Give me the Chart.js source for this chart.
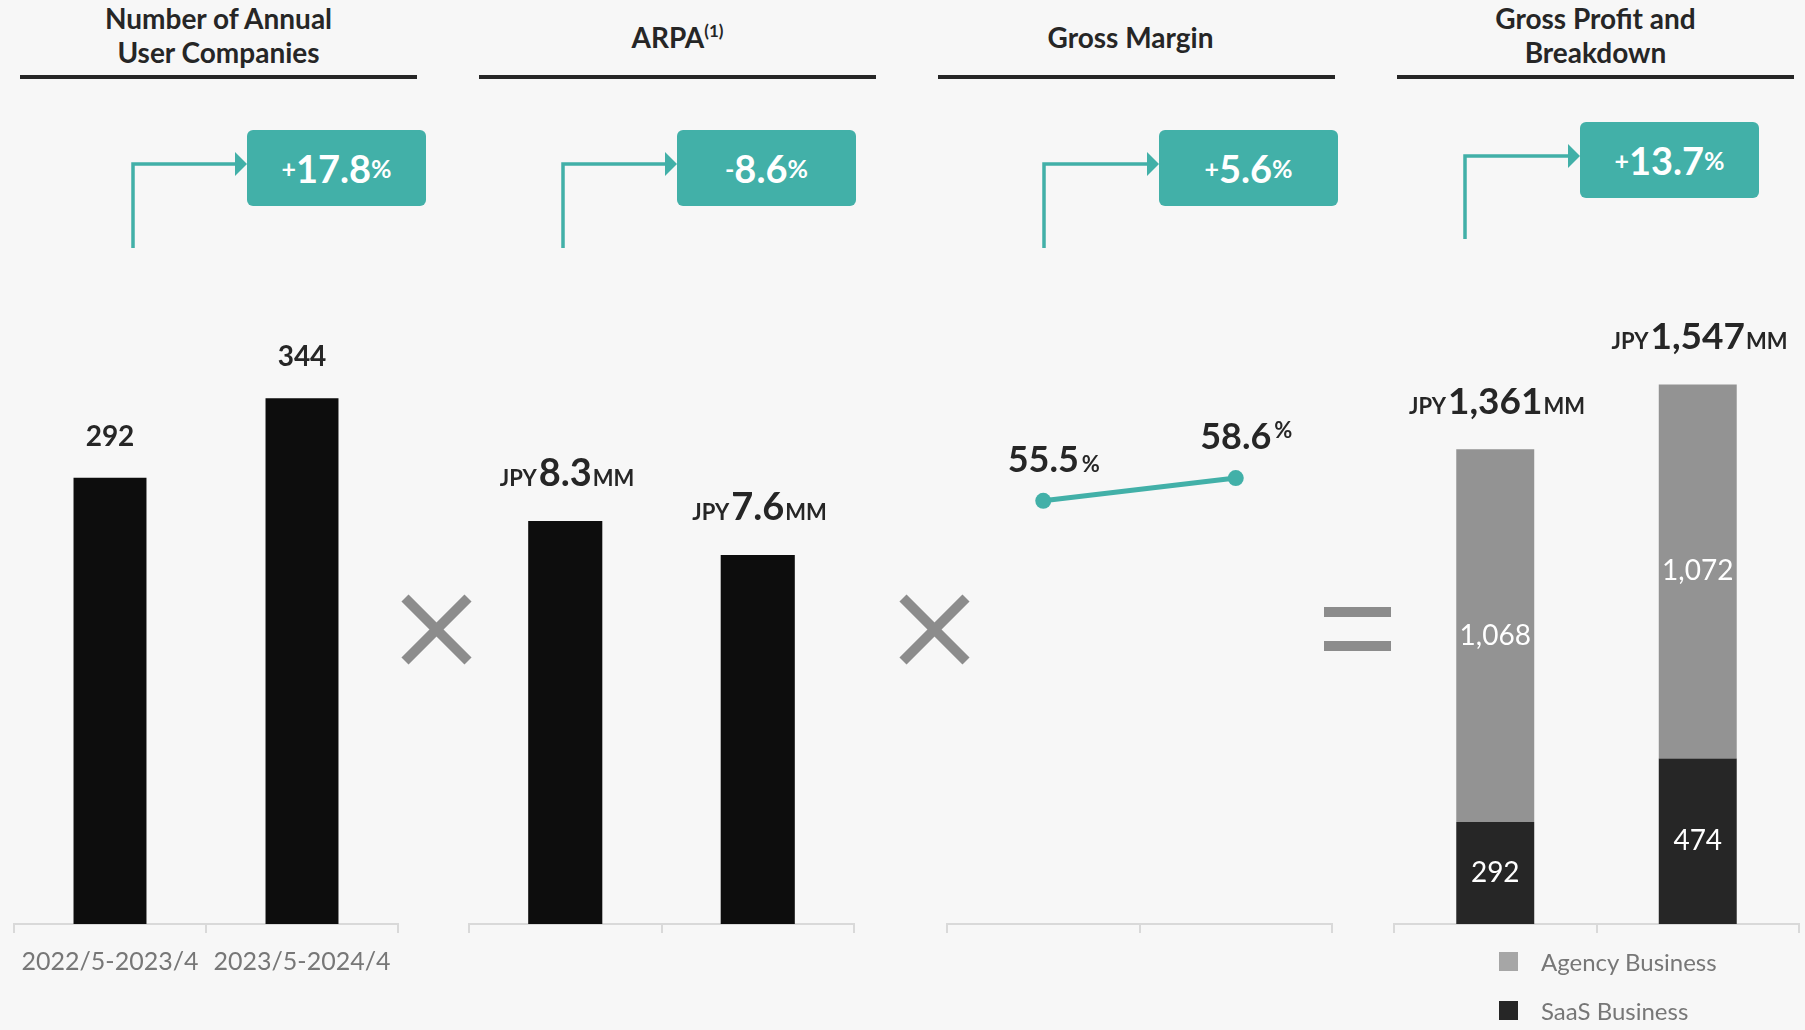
<!DOCTYPE html>
<html lang="en">
<head>
<meta charset="utf-8">
<title>Gross Profit Drivers</title>
<script src="https://cdn.jsdelivr.net/npm/chart.js@4.4.1/dist/chart.umd.min.js"></script>
<style>
  html, body { margin: 0; padding: 0; background: #f7f7f7; }
  #page { position: relative; width: 1805px; height: 1030px; overflow: hidden;
          font-family: Lato, 'Open Sans', sans-serif; color: #262626; }
  .title { position: absolute; width: 397px; text-align: center; font-weight: bold;
           font-size: 28px; line-height: 34px; }
  .title sup { font-size: 17px; line-height: 0; vertical-align: 11px; }
  .rule { position: absolute; top: 75px; width: 397px; height: 4px; background: #262626; }
  .change { position: absolute; width: 179px; height: 76px; border-radius: 6px;
            background: #42b0a8; color: #fff; font-weight: bold;
            display: flex; align-items: center; justify-content: center; }
  .change .big { font-size: 38px; }
  .change .small { font-size: 25px; }
  canvas { position: absolute; top: 250px; }
  #decor { position: absolute; left: 0; top: 0; }
  #legend { position: absolute; left: 1499px; top: 952px; }
  #legend .item { display: flex; align-items: center; height: 19px; margin-bottom: 30px;
                  font-size: 24px; color: #777; }
  #legend .box { width: 19px; height: 19px; margin-right: 23px; }
</style>
</head>
<body>
<div id="page">
  <div class="title" style="left:20px;top:1px">Number of Annual<br>User Companies</div>
  <div class="title" style="left:479px;top:20px">ARPA<sup>(1)</sup></div>
  <div class="title" style="left:932px;top:20px">Gross Margin</div>
  <div class="title" style="left:1397px;top:1px">Gross Profit and<br>Breakdown</div>
  <div class="rule" style="left:20px"></div>
  <div class="rule" style="left:479px"></div>
  <div class="rule" style="left:938px"></div>
  <div class="rule" style="left:1397px"></div>

  <svg id="decor" width="1805" height="1030">
    <g fill="none" stroke="#42b0a8" stroke-width="3.5">
      <polyline points="133,248 133,164 237,164"/>
      <polyline points="563,248 563,164 667,164"/>
      <polyline points="1044,248 1044,164 1149,164"/>
      <polyline points="1465,239 1465,156 1570,156"/>
    </g>
    <g fill="#42b0a8">
      <polygon points="235,152 247,164 235,176"/>
      <polygon points="665,152 677,164 665,176"/>
      <polygon points="1147,152 1159,164 1147,176"/>
      <polygon points="1568,144 1580,156 1568,168"/>
    </g>
    <g stroke="#8c8c8c" stroke-width="10">
      <line x1="405" y1="598" x2="468" y2="661"/>
      <line x1="468" y1="598" x2="405" y2="661"/>
      <line x1="903" y1="598" x2="966" y2="661"/>
      <line x1="966" y1="598" x2="903" y2="661"/>
    </g>
    <rect x="1324" y="607" width="67" height="10" fill="#8c8c8c"/>
    <rect x="1324" y="641" width="67" height="10" fill="#8c8c8c"/>
  </svg>

  <div class="change" id="chgUsers" style="left:247px;top:130px"></div>
  <div class="change" id="chgArpa" style="left:677px;top:130px"></div>
  <div class="change" id="chgMargin" style="left:1159px;top:130px"></div>
  <div class="change" id="chgProfit" style="left:1580px;top:122px"></div>

  <canvas id="usersChart" width="404" height="780" style="left:4px"></canvas>
  <canvas id="arpaChart" width="405" height="780" style="left:459px"></canvas>
  <canvas id="marginChart" width="405" height="780" style="left:937px"></canvas>
  <canvas id="profitChart" width="421" height="780" style="left:1384px"></canvas>

  <div id="legend"></div>
</div>

<script>
const periods = ['2022/5-2023/4', '2023/5-2024/4'];
const userCompanies = [292, 344];
const arpa = [8.3, 7.6];             // JPY MM
const grossMargin = [55.5, 58.6];    // %
const saasProfit = [292, 474];       // JPY MM
const agencyProfit = [1068, 1072];   // JPY MM
const grossProfit = [1361, 1547];    // JPY MM
const yearOnYear = [17.8, -8.6, 5.6, 13.7];

const TEAL = '#42b0a8';
const INK = '#262626';

Chart.defaults.font.family = 'Lato';
Chart.defaults.color = '#777';

// year-on-year change boxes
['chgUsers', 'chgArpa', 'chgMargin', 'chgProfit'].forEach((id, i) => {
  const v = yearOnYear[i];
  document.getElementById(id).innerHTML =
    `<span class="small">${v < 0 ? '-' : '+'}</span><span class="big">${Math.abs(v).toFixed(1)}</span><span class="small">%</span>`;
});

function xAxis(showLabels) {
  return {
    offset: true,
    grid: { offset: true, drawOnChartArea: false, tickLength: 9, color: '#d9d9d9', lineWidth: 2 },
    border: { color: '#d9d9d9', width: 2 },
    ticks: { display: showLabels, autoSkip: false, maxRotation: 0, padding: 14, color: '#777', font: { size: 25 } },
    afterFit: (scale) => { scale.height = 106; }
  };
}

function drawLabel(ctx, x, baseline, text, cfg, i) {
  ctx.textBaseline = 'alphabetic';
  ctx.fillStyle = INK;
  ctx.font = cfg.numFont;
  const w = ctx.measureText(text).width;
  const left = x - w / 2;
  ctx.textAlign = 'left';
  ctx.fillText(text, left, baseline);
  ctx.font = cfg.unitFont || cfg.numFont;
  if (cfg.prefix) {
    ctx.textAlign = 'right';
    ctx.fillText(cfg.prefix, left - 2, baseline);
  }
  if (cfg.suffix) {
    const lift = cfg.suffixLift ? cfg.suffixLift[i] : 0;
    ctx.textAlign = 'left';
    ctx.fillText(cfg.suffix, left + w + (cfg.suffixGap || 1), baseline - lift);
  }
}

// labels above the top of each bar / point
function valueLabels(cfg) {
  return {
    id: 'valueLabels',
    afterDatasetsDraw(chart) {
      const ctx = chart.ctx;
      const meta = chart.getDatasetMeta(chart.data.datasets.length - 1);
      ctx.save();
      meta.data.forEach((el, i) => {
        const text = cfg.values[i].toLocaleString('en-US', {
          minimumFractionDigits: cfg.decimals, maximumFractionDigits: cfg.decimals
        });
        drawLabel(ctx, el.x, el.y - cfg.gap, text, cfg, i);
      });
      ctx.restore();
    }
  };
}

// white numbers in the middle of each stacked segment
const segmentLabels = {
  id: 'segmentLabels',
  afterDatasetsDraw(chart) {
    const ctx = chart.ctx;
    ctx.save();
    ctx.font = '28px Lato';
    ctx.fillStyle = '#fff';
    ctx.textAlign = 'center';
    ctx.textBaseline = 'middle';
    chart.data.datasets.forEach((ds, d) => {
      chart.getDatasetMeta(d).data.forEach((el, i) => {
        ctx.fillText(ds.data[i].toLocaleString('en-US'), el.x, (el.y + el.base) / 2);
      });
    });
    ctx.restore();
  }
};

const common = {
  responsive: false,
  animation: false,
  events: [],
  plugins: { legend: { display: false }, tooltip: { enabled: false } }
};

new Chart(document.getElementById('usersChart'), {
  type: 'bar',
  data: {
    labels: periods,
    datasets: [{ label: 'Annual user companies', data: userCompanies, backgroundColor: '#0d0d0d',
                 barPercentage: 0.38, categoryPercentage: 1 }]
  },
  options: {
    ...common,
    layout: { padding: { left: 10, right: 10, top: 0, bottom: 0 } },
    scales: { x: xAxis(true), y: { display: false, min: 0, max: 441 } }
  },
  plugins: [valueLabels({ values: userCompanies, decimals: 0, gap: 32, numFont: 'bold 28px Lato' })]
});

new Chart(document.getElementById('arpaChart'), {
  type: 'bar',
  data: {
    labels: periods,
    datasets: [{ label: 'ARPA', data: arpa, backgroundColor: '#0d0d0d',
                 barPercentage: 0.385, categoryPercentage: 1 }]
  },
  options: {
    ...common,
    layout: { padding: { left: 10, right: 10, top: 0, bottom: 0 } },
    scales: { x: xAxis(false), y: { display: false, min: 0, max: 13.88 } }
  },
  plugins: [valueLabels({ values: arpa, decimals: 1, gap: 35, numFont: 'bold 38px Lato',
                          unitFont: 'bold 22px Lato', prefix: 'JPY', suffix: 'MM' })]
});

new Chart(document.getElementById('marginChart'), {
  type: 'line',
  data: {
    labels: periods,
    datasets: [{ label: 'Gross margin', data: grossMargin, borderColor: TEAL, borderWidth: 5,
                 pointRadius: 8, pointBackgroundColor: TEAL, pointBorderWidth: 0 }]
  },
  options: {
    ...common,
    layout: { padding: { left: 10, right: 10, top: 0, bottom: 0 } },
    scales: { x: xAxis(false), y: { display: false, min: -2.2, max: 88.6 } }
  },
  plugins: [valueLabels({ values: grossMargin, decimals: 1, gap: 29, numFont: 'bold 36px Lato',
                          unitFont: 'bold 22px Lato', suffix: '%', suffixGap: 3, suffixLift: [0, 11] })]
});

const profitChart = new Chart(document.getElementById('profitChart'), {
  type: 'bar',
  data: {
    labels: periods,
    datasets: [
      { label: 'SaaS Business', data: saasProfit, backgroundColor: INK, legendColor: INK,
        barPercentage: 0.385, categoryPercentage: 1 },
      { label: 'Agency Business', data: agencyProfit, backgroundColor: '#939393', legendColor: '#a6a6a6',
        barPercentage: 0.385, categoryPercentage: 1 }
    ]
  },
  options: {
    ...common,
    layout: { padding: { left: 10, right: 6, top: 0, bottom: 0 } },
    scales: {
      x: { ...xAxis(false), stacked: true },
      y: { display: false, stacked: true, min: 0, max: 1931 }
    }
  },
  plugins: [
    segmentLabels,
    valueLabels({ values: grossProfit, decimals: 0, gap: 35, numFont: 'bold 37px Lato',
                  unitFont: 'bold 22px Lato', prefix: 'JPY', suffix: 'MM' })
  ]
});

// legend, top segment first
document.getElementById('legend').innerHTML = profitChart.data.datasets.slice().reverse()
  .map(ds => `<div class="item"><span class="box" style="background:${ds.legendColor}"></span>${ds.label}</div>`)
  .join('');
</script>
</body>
</html>
